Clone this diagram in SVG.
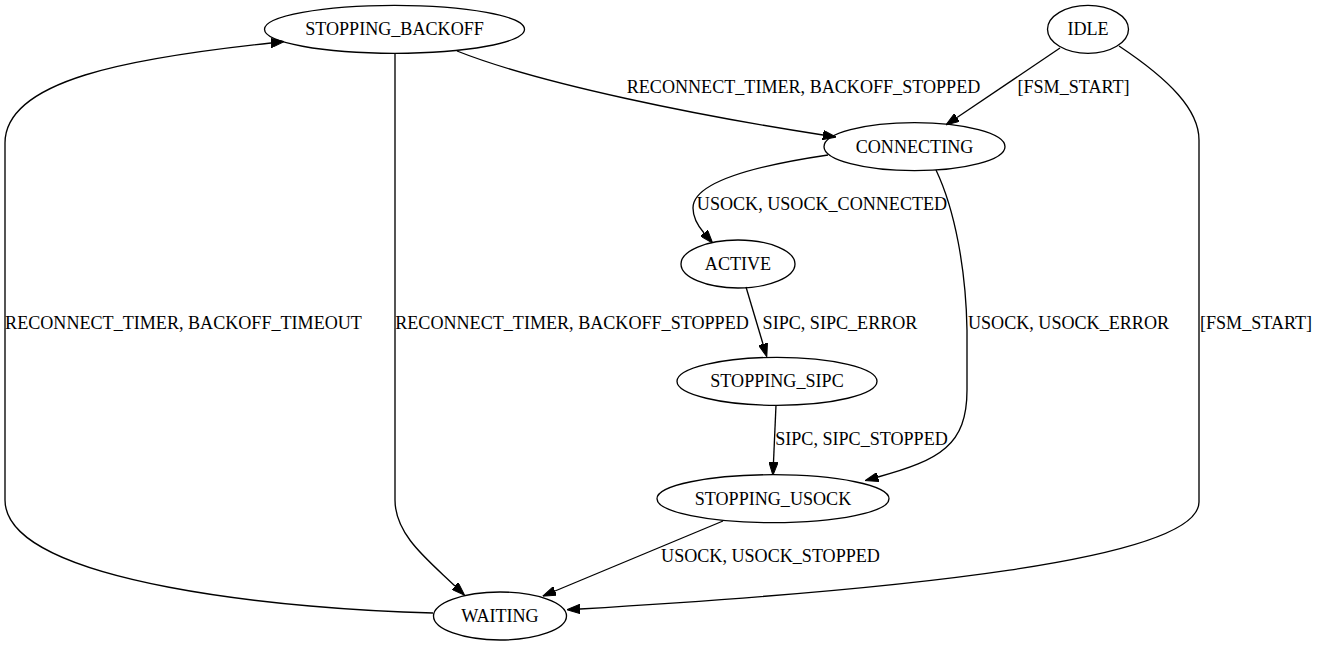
<svg xmlns="http://www.w3.org/2000/svg" width="1320" height="645" viewBox="0 0 1320 645">
<style>
.n ellipse{fill:none;stroke:#000;stroke-width:1.33}
text{font-family:"Liberation Serif","Times New Roman",serif;font-size:18.1px;fill:#000;text-anchor:middle}
.e path{fill:none;stroke:#000;stroke-width:1.33;marker-end:url(#arr)}
</style>
<defs>
<marker id="arr" viewBox="0 0 13.33 9.33" refX="0" refY="4.67" markerWidth="13.33" markerHeight="9.33" markerUnits="userSpaceOnUse" orient="auto">
<path d="M0,0 L13.33,4.67 L0,9.33 z" fill="#000" stroke="#000" stroke-width="1"/>
</marker>
</defs>
<rect width="1320" height="645" fill="#fff"/>
<g id="edges" class="e">
<path d="M457,51 C540,84 700,116 823,135"/>
<path d="M1060,48 L957,117.5"/>
<path d="M1119,46 C1170,80 1199,110 1199,140 L1199,502 C1199,560 900,590 580,609"/>
<path d="M828,155 C740,168 693,185 693,208 C693,218 698,226 704,233"/>
<path d="M936,170 C955,210 966,270 967,330 L967,390 C967,445 940,460 878,477"/>
<path d="M746,287 L763,344"/>
<path d="M776,405 L773.5,462"/>
<path d="M723,521 L555,591"/>
<path d="M395,53 L395,500 C395,535 428,560 455,586"/>
<path d="M433,613 C300,610 5,585 5,500 L5,143 C5,80 130,58 271,43"/>
</g>
<g id="edge-labels">
<text x="803.5" y="93">RECONNECT_TIMER, BACKOFF_STOPPED</text>
<text x="1073.5" y="93">[FSM_START]</text>
<text x="822" y="210">USOCK, USOCK_CONNECTED</text>
<text x="183.5" y="328.5">RECONNECT_TIMER, BACKOFF_TIMEOUT</text>
<text x="572" y="328.5">RECONNECT_TIMER, BACKOFF_STOPPED</text>
<text x="840" y="328.5">SIPC, SIPC_ERROR</text>
<text x="1068.5" y="328.5">USOCK, USOCK_ERROR</text>
<text x="1256" y="328.5">[FSM_START]</text>
<text x="861.5" y="445">SIPC, SIPC_STOPPED</text>
<text x="770.5" y="561.5">USOCK, USOCK_STOPPED</text>
</g>
<g id="STOPPING_BACKOFF" class="n"><ellipse cx="394.5" cy="29.3" rx="130" ry="24"/><text x="394.5" y="35.3">STOPPING_BACKOFF</text></g>
<g id="IDLE" class="n"><ellipse cx="1088" cy="29.3" rx="40.5" ry="24"/><text x="1088" y="35.3">IDLE</text></g>
<g id="CONNECTING" class="n"><ellipse cx="914.5" cy="146.7" rx="90.5" ry="24"/><text x="914.5" y="152.7">CONNECTING</text></g>
<g id="ACTIVE" class="n"><ellipse cx="738" cy="264" rx="57" ry="24"/><text x="738" y="270">ACTIVE</text></g>
<g id="STOPPING_SIPC" class="n"><ellipse cx="777" cy="381.3" rx="100" ry="24"/><text x="777" y="387.3">STOPPING_SIPC</text></g>
<g id="STOPPING_USOCK" class="n"><ellipse cx="773" cy="498.7" rx="116" ry="24"/><text x="773" y="504.7">STOPPING_USOCK</text></g>
<g id="WAITING" class="n"><ellipse cx="500" cy="616" rx="66.5" ry="24"/><text x="500" y="622">WAITING</text></g>
</svg>
